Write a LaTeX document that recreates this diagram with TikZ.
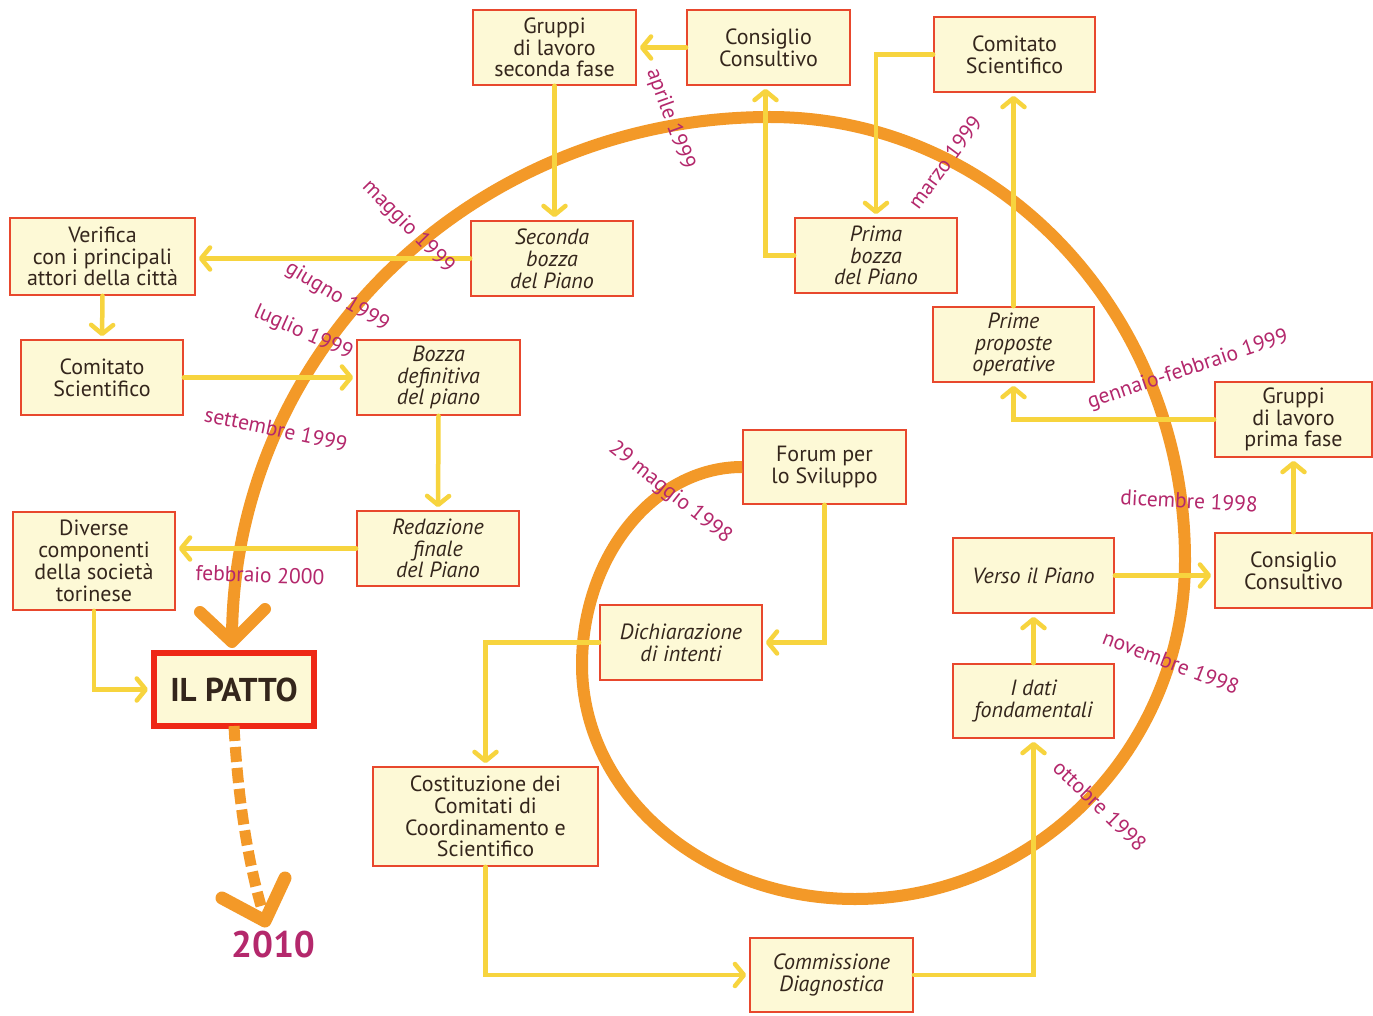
\documentclass[tikz,border=0pt]{standalone}
\usepackage{fontspec}
\setmainfont{PT Sans}
\usetikzlibrary{arrows.meta}

\definecolor{boxfill}{RGB}{253,249,214}
\definecolor{boxline}{RGB}{232,72,45}
\definecolor{ink}{RGB}{52,38,28}
\definecolor{linkcol}{RGB}{247,212,62}
\definecolor{spiralcol}{RGB}{243,153,40}
\definecolor{datecol}{RGB}{180,40,108}
\definecolor{pattoline}{RGB}{238,40,22}

\tikzset{
  box/.style={draw=boxline, line width=1.6pt, fill=boxfill, text=ink,
    align=center, inner sep=0pt, font=\fontsize{22}{21.8}\selectfont},
  ibox/.style={box, font=\fontsize{22}{21.8}\selectfont\itshape},
  pattobox/.style={box, draw=pattoline, line width=6pt,
    font=\fontsize{33}{35}\selectfont\bfseries},
  link/.style={draw=linkcol, line width=4.5pt, line cap=round,
    -{Straight Barb[length=9pt,width=22pt,round]}, shorten >=3pt},
  spiralline/.style={draw=spiralcol, line width=12pt},
  chevron/.style={draw=spiralcol, line width=12pt, line cap=round, line join=round},
  date/.style={text=datecol, inner sep=0pt, font=\fontsize{21.5}{22}\selectfont},
}

\begin{document}
\begin{tikzpicture}[x=1pt,y=-1pt]
\fill[white] (0,0) rectangle (1373,1016);
\useasboundingbox (0,0) rectangle (1373,1016);

% boxes (the spiral starts at the Forum, so that one is placed first)
\node[box,  minimum width=163pt, minimum height=74pt] (fo)  at (824.5,467)   {Forum per\\lo Sviluppo};
\node[pattobox, minimum width=160pt, minimum height=73pt] (patto) at (234,689.5) {IL PATTO};

% the time spiral, four growing quarter turns ending on the Pact
\coordinate (spiralend) at (232,642);
\draw[spiralline] (fo.west)
  .. controls (654,467) and (582,556) .. (582,665)
  .. controls (582,794) and (704,899) .. (855,899)
  .. controls (1037,899) and (1185,747) .. (1185,560)
  .. controls (1185,315) and (999,117) .. (770,117)
  .. controls (473,117) and (232,351) .. (232,640);
\draw[chevron] (200,612) -- (spiralend) -- (265,609);

\node[box,  minimum width=163pt, minimum height=75pt] (gs)  at (554.5,47.5)  {Gruppi\\di lavoro\\seconda fase};
\node[box,  minimum width=163pt, minimum height=75pt] (cc1) at (768.5,47.5)  {Consiglio\\Consultivo};
\node[box,  minimum width=161pt, minimum height=75pt] (cs1) at (1014.5,54.5) {Comitato\\Scientifico};
\node[box,  minimum width=185pt, minimum height=77pt] (ve)  at (102.5,256.5) {Verifica\\con i principali\\attori della città};
\node[ibox, minimum width=162pt, minimum height=75pt] (sb)  at (552,258.5)   {Seconda\\bozza\\del Piano};
\node[ibox, minimum width=162pt, minimum height=75pt] (pb)  at (876,255.5)   {Prima\\bozza\\del Piano};
\node[box,  minimum width=162pt, minimum height=75pt] (cs2) at (102,377.5)   {Comitato\\Scientifico};
\node[ibox, minimum width=163pt, minimum height=75pt] (bd)  at (438.5,377.5) {Bozza\\definitiva\\del piano};
\node[ibox, minimum width=161pt, minimum height=75pt] (pp)  at (1013.5,344.5) {Prime\\proposte\\operative};
\node[box,  minimum width=157pt, minimum height=75pt] (gp)  at (1293.5,419.5) {Gruppi\\di lavoro\\prima fase};
\node[box,  minimum width=162pt, minimum height=98pt] (dc)  at (94,561)      {Diverse\\componenti\\della società\\torinese};
\node[ibox, minimum width=162pt, minimum height=75pt] (rf)  at (438,548.5)   {Redazione\\finale\\del Piano};
\node[ibox, minimum width=161pt, minimum height=75pt] (vp)  at (1033.5,575.5) {Verso il Piano};
\node[box,  minimum width=157pt, minimum height=75pt] (cc2) at (1293.5,570.5) {Consiglio\\Consultivo};
\node[ibox, minimum width=162pt, minimum height=75pt] (di)  at (681,642.5)   {Dichiarazione\\di intenti};
\node[ibox, minimum width=161pt, minimum height=74pt] (df)  at (1033.5,701)  {I dati\\fondamentali};
\node[box,  minimum width=225pt, minimum height=99pt] (co)  at (485.5,816.5) {Costituzione dei\\Comitati di\\Coordinamento e\\Scientifico};
\node[ibox, minimum width=163pt, minimum height=74pt] (cd)  at (831.5,975)   {Commissione\\Diagnostica};

% connectors
\draw[link] (fo.south) |- (di.east);
\draw[link] (di.west) -| (co.north);
\draw[link] (co.south) |- (cd.west);
\draw[link] (cd.east) -| (df.south);
\draw[link] (df.north) -- (vp.south);
\draw[link] (vp.east) -- (vp.east -| cc2.west);
\draw[link] (cc2.north) -- (gp.south);
\draw[link] (gp.west) -| (pp.south);
\draw[link] (pp.north) -- (pp.north |- cs1.south);
\draw[link] (cs1.west) -| (pb.north);
\draw[link] (pb.west) -| ([xshift=-3pt]cc1.south);
\draw[link] (cc1.west) -- (gs.east);
\draw[link] (gs.south) -- (gs.south |- sb.north);
\draw[link] (sb.west) -- (sb.west -| ve.east);
\draw[link] (ve.south) -- (cs2.north);
\draw[link] (cs2.east) -- (bd.west);
\draw[link] (bd.south) -- (rf.north);
\draw[link] (rf.west) -- (rf.west -| dc.east);
\draw[link] (dc.south) |- (patto.west);

% towards 2010
\node[text=datecol, inner sep=0pt, font=\fontsize{37}{39}\selectfont\bfseries] (y2010) at (273,945) {2010};
\coordinate (futuretip) at (265,921);
\draw[spiralcol, line width=11pt, dash pattern=on 15pt off 6pt]
  ([yshift=3pt]patto.south) .. controls (238,800) and (248,860) .. (261,906);
\draw[chevron, line width=13pt] (222,898) -- (futuretip) -- (285,878);

% dates along the spiral
\node[date, rotate=-38.5] (d1) at (670,493)  {29 maggio 1998};
\node[date, rotate=-44]   (d2) at (1100,806) {ottobre 1998};
\node[date, rotate=-21]   (d3) at (1171,662) {novembre 1998};
\node[date, rotate=-3]    (d4) at (1189,501) {dicembre 1998};
\node[date, rotate=18.5]  (d5) at (1188,370) {gennaio-febbraio 1999};
\node[date, rotate=53.5]  (d6) at (945,162)  {marzo 1999};
\node[date, rotate=-70]   (d7) at (670,119)  {aprile 1999};
\node[date, rotate=-45.5] (d8) at (408,227)  {maggio 1999};
\node[date, rotate=-31]   (d9) at (337,297)  {giugno 1999};
\node[date, rotate=-24]   (d10) at (303,333) {luglio 1999};
\node[date, rotate=-12]   (d11) at (276,429) {settembre 1999};
\node[date, rotate=-2]    (d12) at (260,575) {febbraio 2000};
\end{tikzpicture}
\end{document}
